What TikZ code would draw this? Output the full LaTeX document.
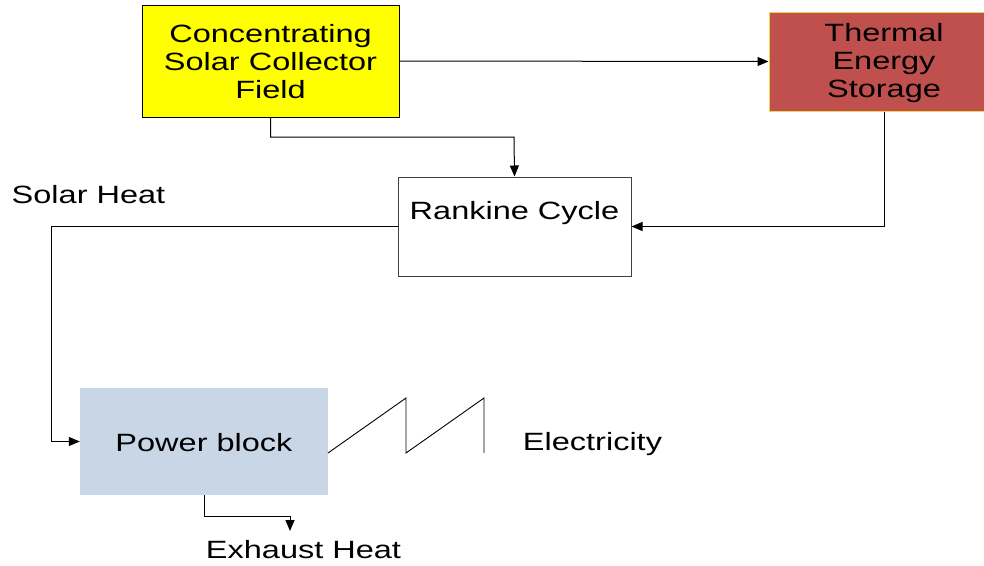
\documentclass[tikz,border=0pt]{standalone}
\usepackage{fontspec}
\setmainfont{Liberation Sans}[FakeStretch=1.3]
\usetikzlibrary{arrows.meta}
\definecolor{csfyellow}{HTML}{FFFF00}
\definecolor{tesred}{HTML}{C0504D}
\definecolor{tesborder}{HTML}{E8D84A}
\definecolor{pbblue}{HTML}{C9D6E6}
\definecolor{rcborder}{HTML}{404040}
\begin{document}
\begin{tikzpicture}[x=1pt,y=-1pt,
  every node/.style={font=\fontsize{25}{28}\selectfont, align=center, inner sep=0pt},
  blockbox/.style={rectangle},
  conn/.style={line width=1pt, black},
  arr/.style={conn, -{Triangle[length=11pt,width=9pt]}}]
\useasboundingbox (0,0) rectangle (984,565);
\fill[white] (0,0) rectangle (984,565);
% blocks
\node[blockbox, draw=black, line width=1pt, fill=csfyellow, minimum width=257pt, minimum height=112pt] (csf) at (270.5,61) {};
\node (csftext) at (270.5,62) {Concentrating\\Solar Collector\\Field};
\begin{scope}
\clip (0,0) rectangle (984,565);
\node[blockbox, draw=tesborder, line width=1pt, fill=tesred, minimum width=230pt, minimum height=99pt] (tes) at (884,61.5) {};
\end{scope}
\node (testext) at (884,63) {Thermal\\Energy\\Storage};
\node[blockbox, draw=rcborder, line width=1pt, fill=white, minimum width=233pt, minimum height=99pt] (rc) at (514.5,226.5) {};
\node (rctext) at (514.5,213) {Rankine Cycle};
\node[blockbox, fill=pbblue, minimum width=248pt, minimum height=107pt] (pb) at (204,441.5) {};
\node (pbtext) at (204,443) {Power block};
% labels
\node (solar) at (88.5,195) {Solar Heat};
\node (elec) at (592.5,444) {Electricity};
\node (exh) at (303.5,550) {Exhaust Heat};
% helper coordinates
\coordinate (j1) at (514,137);
\coordinate (j2) at (51,226.5);
\coordinate (j3) at (290,516);
\coordinate (j4) at (290,531);
% connectors
\draw[arr] (csf.east) -- (tes.west);
\draw[arr] (csf.south) |- (j1) -- (rc.north);
\draw[arr] (tes.south) |- (rc.east);
\draw[arr] (rc.west) -- (j2) |- (pb.west);
\draw[arr] (pb.south) |- (j3) -- (j4);
% electricity zigzag
\coordinate (z0) at (328,453);
\draw[conn, line width=0.9pt, line join=miter] (z0) -- (406,398) -- (406,453) -- (484,398) -- (484,453);
\end{tikzpicture}
\end{document}
